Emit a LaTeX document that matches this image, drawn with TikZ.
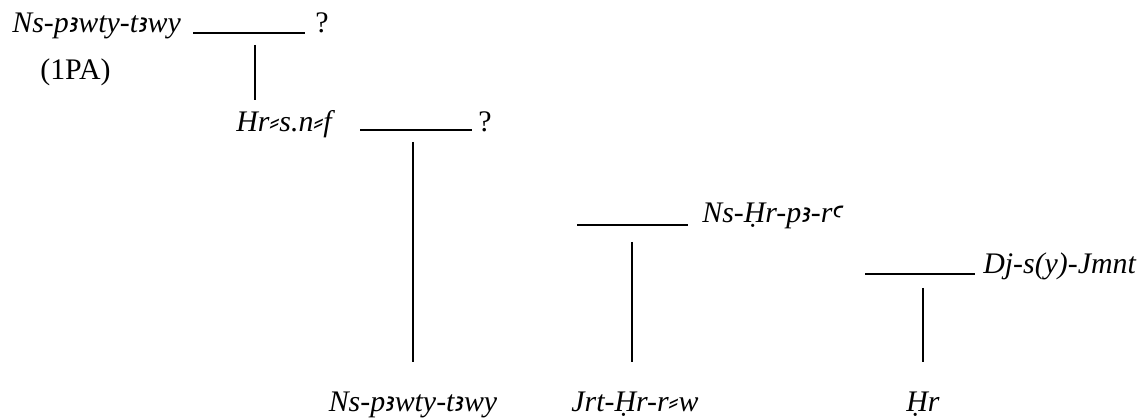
\documentclass[tikz,border=0pt]{standalone}
\usepackage{fontspec}
\setmainfont{Liberation Serif}
\newfontfamily\alephfont[Scale=0.9]{DejaVu Sans}
\newfontfamily\ayinfont{Noto Sans}
\newcommand{\egalef}{{\alephfont\itshape ꜣ}}
\newcommand{\egayin}{{\ayinfont\itshape ꜥ}}
\usetikzlibrary{calc}
\tikzstyle{person}=[font=\fontsize{17}{20}\selectfont\itshape,inner sep=0pt,anchor=base west]
\tikzstyle{leaf}=[person,anchor=base]
\tikzstyle{note}=[font=\fontsize{17}{20}\selectfont,inner sep=0pt,anchor=base west]
\tikzstyle{stem}=[draw,line width=0.6pt]

\begin{document}
\begin{tikzpicture}[x=0.02cm,y=-0.02cm]
    \useasboundingbox (0,0) rectangle (1137,418);

    % names on the lines
    \node[person] (nsa) at (12,33) {Ns-p\egalef wty-t\egalef wy};
    \node[note] (qa) at (315,33) {?};
    \node[note] (pa) at (40,80) {(1PA)};
    \node[person] (hr) at (236,132) {Hr⸗s.n⸗f};
    \node[note] (qb) at (478,132) {?};
    \node[person] (nshr) at (702,223) {Ns-Ḥr-p\egalef-r\egayin};
    \node[person] (dj) at (983,274) {Dj-s(y)-Jmnt};

    % children at the bottom
    \foreach \pos/ \name/ \text in {{(413,412)/nsb/{Ns-p\egalef wty-t\egalef wy}}, {(635,412)/jrt/{Jrt-Ḥr-r⸗w}}, {(923,412)/hrb/{Ḥr}}}
        \node[leaf] (\name) at \pos {\text};

    % couple lines and descent lines
    \foreach \a/ \b/ \c/ \d/ \x/ \y/ \top/ \bot in {193/305/33/a/255/33/45/100, 360/472/130/b/413/130/142/362, 577/688/225/c/632/225/242/362, 865/975/274/d/923/274/288/362}
    {
        \coordinate (l\d) at (\a,\c);
        \coordinate (r\d) at (\b,\c);
        \coordinate (t\d) at (\x,\top);
        \coordinate (s\d) at (\x,\bot);
        \path[stem] (l\d) -- (r\d);
        \path[stem] (t\d) -- (s\d);
    }

\end{tikzpicture}
\end{document}
